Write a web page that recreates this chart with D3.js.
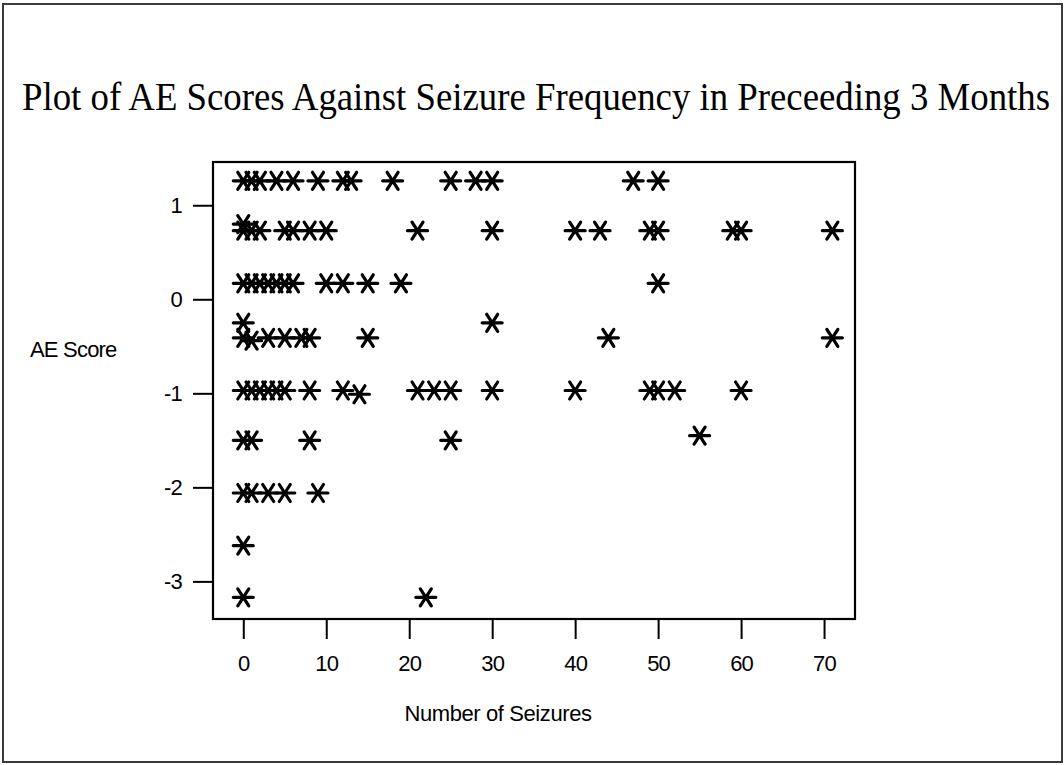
<!DOCTYPE html>
<html>
<head>
<meta charset="utf-8">
<script src="https://cdn.jsdelivr.net/npm/d3@7"></script>
<style>
  html, body { margin: 0; padding: 0; background: #fff; }
  svg { display: block; }
  .axis text { font-family: "Liberation Sans", Arial, sans-serif; font-size: 22px; fill: #000; letter-spacing: -0.8px; }
  .axis line { stroke: #000; stroke-width: 2px; }
</style>
</head>
<body>
<script>
// Seizure counts in the preceding 3 months and the matching AE scores
const seizures = [
  0, 1, 2, 4, 6, 9, 12, 13, 18, 25, 28, 30, 47, 50,
  0,
  0, 1, 2, 5, 6, 8, 10, 21, 30, 40, 43, 49, 50, 59, 60, 71,
  0, 1, 2, 3, 4, 5, 6, 10, 12, 15, 19, 50,
  0, 30,
  0, 3, 5, 7, 8, 15, 44, 71,
  1,
  0, 1, 2, 3, 4, 5, 8, 12, 21, 23, 25, 30, 40, 49, 50, 52, 60,
  14,
  0, 1, 8, 25,
  55,
  0, 1, 3, 5, 9,
  0,
  0, 22
];
const aeScores = [
  1.26, 1.26, 1.26, 1.26, 1.26, 1.26, 1.26, 1.26, 1.26, 1.26, 1.26, 1.26, 1.26, 1.26,
  0.80,
  0.73, 0.73, 0.73, 0.73, 0.73, 0.73, 0.73, 0.73, 0.73, 0.73, 0.73, 0.73, 0.73, 0.73, 0.73, 0.73,
  0.17, 0.17, 0.17, 0.17, 0.17, 0.17, 0.17, 0.17, 0.17, 0.17, 0.17, 0.17,
  -0.25, -0.25,
  -0.41, -0.41, -0.41, -0.41, -0.41, -0.41, -0.41, -0.41,
  -0.44,
  -0.97, -0.97, -0.97, -0.97, -0.97, -0.97, -0.97, -0.97, -0.97, -0.97, -0.97, -0.97, -0.97, -0.97, -0.97, -0.97, -0.97,
  -1.01,
  -1.50, -1.50, -1.50, -1.50,
  -1.45,
  -2.06, -2.06, -2.06, -2.06, -2.06,
  -2.62,
  -3.17, -3.17
];

const xTicks = [0, 10, 20, 30, 40, 50, 60, 70];
const yTicks = [1, 0, -1, -2, -3];
const xDomain = [-3.65, 73.73];
const yDomain = [-3.40, 1.46];

const titleText = "Plot of AE Scores Against Seizure Frequency in Preceeding 3 Months";
const xLabel = "Number of Seizures";
const yLabel = "AE Score";

const W = 1064, H = 765;
const box = { left: 213, right: 855, top: 162, bottom: 619 };

const svg = d3.select("body").append("svg")
  .attr("width", W).attr("height", H);

svg.append("rect").attr("width", W).attr("height", H).attr("fill", "#fff");

// outer frame
svg.append("rect")
  .attr("x", 3).attr("y", 4).attr("width", W - 5).attr("height", H - 7)
  .attr("fill", "none").attr("stroke", "#3a3a3a").attr("stroke-width", 2);

// title: tall, narrow serif lettering
svg.append("text")
  .attr("transform", "translate(536,110) scale(1,1.15)")
  .attr("text-anchor", "middle")
  .attr("textLength", 1028)
  .attr("lengthAdjust", "spacingAndGlyphs")
  .style("font-family", "'Liberation Serif', 'Times New Roman', serif")
  .style("font-size", "35px")
  .attr("fill", "#000")
  .text(titleText);

const x = d3.scaleLinear().domain(xDomain).range([box.left, box.right]);
const y = d3.scaleLinear().domain(yDomain).range([box.bottom, box.top]);

// axes (plain hyphen for negative labels)
const xAxis = d3.axisBottom(x).tickValues(xTicks).tickSize(20).tickPadding(16)
  .tickFormat(d => String(d));
const yAxis = d3.axisLeft(y).tickValues(yTicks).tickSize(20).tickPadding(11)
  .tickFormat(d => String(d));

svg.append("g").attr("class", "axis")
  .attr("transform", `translate(0,${box.bottom})`)
  .call(xAxis)
  .call(g => g.select(".domain").remove());

svg.append("g").attr("class", "axis")
  .attr("transform", `translate(${box.left},0)`)
  .call(yAxis)
  .call(g => g.select(".domain").remove());

// plot frame
svg.append("rect")
  .attr("x", box.left).attr("y", box.top)
  .attr("width", box.right - box.left).attr("height", box.bottom - box.top)
  .attr("fill", "none").attr("stroke", "#000").attr("stroke-width", 2.2);

// axis titles
svg.append("text")
  .attr("x", 498).attr("y", 721)
  .attr("text-anchor", "middle")
  .style("font-family", "'Liberation Sans', Arial, sans-serif")
  .style("font-size", "22px")
  .style("letter-spacing", "-0.4px")
  .attr("fill", "#000")
  .text(xLabel);

svg.append("text")
  .attr("x", 30).attr("y", 357)
  .attr("text-anchor", "start")
  .style("font-family", "'Liberation Sans', Arial, sans-serif")
  .style("font-size", "22px")
  .style("letter-spacing", "-0.8px")
  .attr("fill", "#000")
  .text(yLabel);

// asterisk markers: horizontal bar crossed by an X
const star = "M-10,0H10M-5.5,-8.5L5.5,8.5M5.5,-8.5L-5.5,8.5";
const points = seizures.map((s, i) => ({ s, a: aeScores[i] }));

svg.append("g").selectAll("path")
  .data(points)
  .join("path")
  .attr("transform", d => `translate(${x(d.s)},${y(d.a)})`)
  .attr("d", star)
  .attr("fill", "none")
  .attr("stroke", "#000")
  .attr("stroke-width", 3.2)
  .attr("stroke-linecap", "round");
</script>
</body>
</html>
